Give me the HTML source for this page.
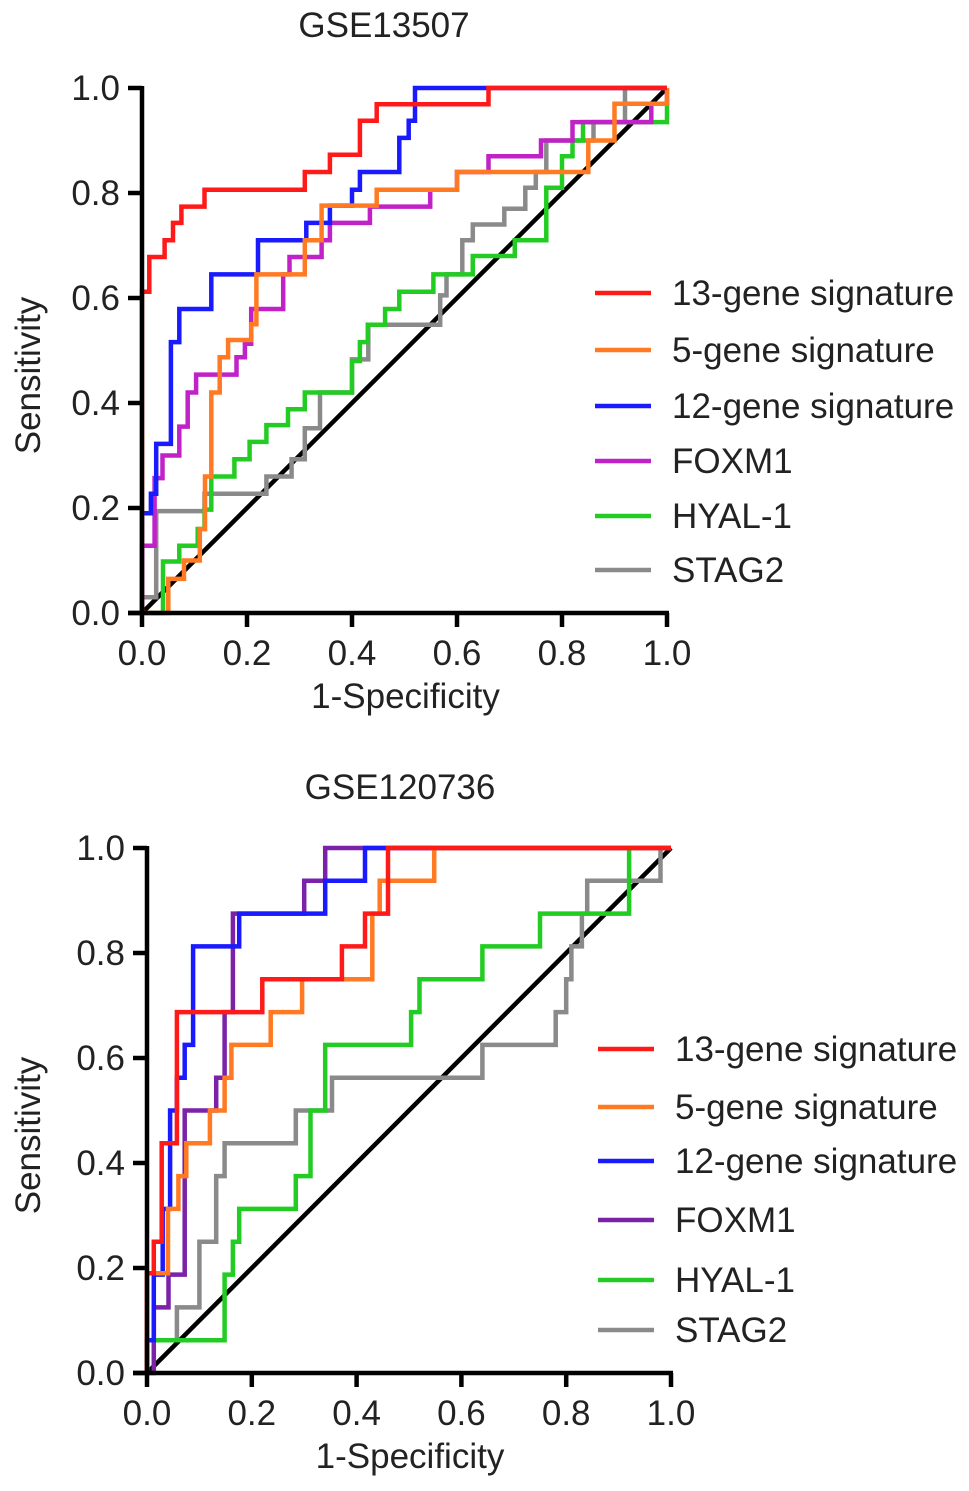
<!DOCTYPE html>
<html><head><meta charset="utf-8"><style>
html,body{margin:0;padding:0;background:#fff;}
svg{display:block;font-family:"Liberation Sans",Arial,sans-serif;}
</style></head><body>
<svg id="chart" width="969" height="1491" viewBox="0 0 969 1491" xmlns="http://www.w3.org/2000/svg"></svg>
<script>
// ---- data (step curves: move horizontally to fpr[i], then vertically to tpr[i]) ----
const ticks = [0, 0.2, 0.4, 0.6, 0.8, 1.0];
const tickLabels = ["0.0", "0.2", "0.4", "0.6", "0.8", "1.0"];
const seriesNames = ["13-gene signature", "5-gene signature", "12-gene signature", "FOXM1", "HYAL-1", "STAG2"];

const topRedFpr = [0,0.014,0.043,0.059,0.075,0.119,0.31,0.358,0.415,0.447,0.66,1];
const topRedTpr = [0.612,0.678,0.71,0.743,0.774,0.806,0.84,0.873,0.9375,0.969,1,1];
const topOrangeFpr = [0.05,0.08,0.11,0.12,0.132,0.148,0.164,0.208,0.218,0.256,0.31,0.342,0.447,0.6,0.85,0.9,1];
const topOrangeTpr = [0.065,0.1,0.16,0.26,0.42,0.487,0.52,0.55,0.645,0.645,0.71,0.776,0.806,0.84,0.9,0.97,1];
const topBlueFpr = [0,0.017,0.027,0.055,0.071,0.132,0.221,0.313,0.358,0.40,0.415,0.49,0.508,0.52,1];
const topBlueTpr = [0.19,0.227,0.322,0.516,0.579,0.645,0.71,0.743,0.776,0.806,0.84,0.905,0.9375,1,1];
const topFoxFpr = [0,0.024,0.039,0.071,0.087,0.103,0.18,0.196,0.208,0.269,0.281,0.342,0.358,0.434,0.549,0.6,0.66,0.76,0.82,0.97,1];
const topFoxTpr = [0.128,0.257,0.30,0.355,0.42,0.454,0.487,0.513,0.579,0.645,0.678,0.71,0.743,0.774,0.806,0.84,0.87,0.9,0.935,0.97,1];
const topGreenFpr = [0.04,0.071,0.106,0.119,0.132,0.176,0.205,0.237,0.278,0.31,0.40,0.415,0.43,0.463,0.49,0.555,0.63,0.71,0.77,0.8,0.82,0.84,1];
const topGreenTpr = [0.098,0.128,0.16,0.197,0.26,0.293,0.326,0.358,0.388,0.42,0.48,0.516,0.549,0.579,0.612,0.645,0.68,0.71,0.81,0.87,0.9,0.935,0.97];
const topGrayFpr = [0,0.027,0.119,0.237,0.285,0.31,0.339,0.40,0.431,0.568,0.58,0.61,0.63,0.69,0.73,0.75,0.77,0.86,0.92,1];
const topGrayTpr = [0.03,0.194,0.227,0.26,0.293,0.352,0.42,0.483,0.549,0.605,0.645,0.71,0.74,0.77,0.81,0.84,0.9,0.935,1,1];

const botRedFpr = [0,0.013,0.028,0.057,0.22,0.372,0.416,0.46,1];
const botRedTpr = [0.19,0.25,0.4375,0.6875,0.75,0.8125,0.875,1,1];
const botOrangeFpr = [0,0.04,0.06,0.075,0.12,0.148,0.161,0.236,0.296,0.43,0.444,0.548,1];
const botOrangeTpr = [0.19,0.3125,0.375,0.4375,0.5,0.5625,0.625,0.6875,0.75,0.875,0.9375,1,1];
const botBlueFpr = [0,0.013,0.03,0.044,0.057,0.072,0.088,0.176,0.34,0.416,1];
const botBlueTpr = [0.0625,0.1875,0.3125,0.5,0.5625,0.625,0.8125,0.875,0.9375,1,1];
const botFoxFpr = [0.013,0.041,0.072,0.132,0.148,0.164,0.3,0.34,1];
const botFoxTpr = [0.125,0.1875,0.5,0.5625,0.6875,0.875,0.9375,1,1];
const botGreenFpr = [0,0.148,0.164,0.176,0.284,0.312,0.34,0.504,0.52,0.64,0.75,0.92,1];
const botGreenTpr = [0.0625,0.1875,0.25,0.3125,0.375,0.5,0.625,0.6875,0.75,0.8125,0.875,1,1];
const botGrayFpr = [0,0.057,0.1,0.132,0.148,0.284,0.353,0.64,0.78,0.80,0.81,0.83,0.84,0.98,1];
const botGrayTpr = [0.0625,0.125,0.25,0.375,0.4375,0.5,0.5625,0.625,0.6875,0.75,0.8125,0.875,0.9375,1,1];

const NS = "http://www.w3.org/2000/svg";
const svg = document.getElementById("chart");
const FS = 35;
function mk(tag, attrs, parent) {
  const e = document.createElementNS(NS, tag);
  for (const k in attrs) e.setAttribute(k, attrs[k]);
  (parent || svg).appendChild(e);
  return e;
}
function txt(s, attrs, parent) { const e = mk("text", attrs, parent); e.textContent = s; return e; }

function panel(cfg) {
  const g = mk("g", {});
  
  
  const sx = v => cfg.x0 + v * (cfg.x1 - cfg.x0);
  const sy = v => cfg.y0 - v * (cfg.y0 - cfg.y1);
  const t = txt(cfg.title, {x: cfg.titleX, y: cfg.titleY, "font-size": FS, "text-anchor": "middle", fill: "#222"}, g);
  
  
  const d = mk("line", {x1: sx(0), y1: sy(0), x2: sx(1), y2: sy(1), stroke: "#000", "stroke-width": 4.5}, g);
  
  
  for (let i = cfg.series.length - 1; i >= 0; i--) {
    const s = cfg.series[i];
    let p = "M" + sx(0) + "," + sy(0);
    for (let k = 0; k < s.fpr.length; k++) {
      p += " H" + sx(s.fpr[k]).toFixed(1) + " V" + sy(s.tpr[k]).toFixed(1);
    }
    const path = mk("path", {d: p, fill: "none", stroke: s.color, "stroke-width": 4.5, "stroke-linejoin": "miter"}, g);
    
    
  }
  const ya = mk("line", {x1: sx(0), y1: sy(0) + 2, x2: sx(0), y2: sy(1) - 2, stroke: "#000", "stroke-width": 4.5}, g);
  
  
  const xa = mk("line", {x1: sx(0) - 14, y1: sy(0), x2: sx(1) + 2, y2: sy(0), stroke: "#000", "stroke-width": 4.5}, g);
  
  
  for (let i = 0; i < ticks.length; i++) {
    const v = ticks[i];
    mk("line", {x1: sx(0) - 14, y1: sy(v), x2: sx(0), y2: sy(v), stroke: "#000", "stroke-width": 4.5}, g);
    mk("line", {x1: sx(v), y1: sy(0), x2: sx(v), y2: sy(0) + 14, stroke: "#000", "stroke-width": 4.5}, g);
    const yl = txt(tickLabels[i], {x: sx(0) - 22, y: sy(v) + 12, "font-size": FS, "text-anchor": "end", fill: "#222"}, g);
    
    
    const xl = txt(tickLabels[i], {x: sx(v), y: sy(0) + 52, "font-size": FS, "text-anchor": "middle", fill: "#222"}, g);
    
    
  }
  const xt = txt("1-Specificity", {x: (sx(0) + sx(1)) / 2 + 1, y: sy(0) + 95, "font-size": FS, "text-anchor": "middle", fill: "#222"}, g);
  
  
  const cy = (sy(0) + sy(1)) / 2 + 25;
  const yt = txt("Sensitivity", {x: 40, y: cy, "font-size": FS, "text-anchor": "middle", fill: "#222", transform: "rotate(-90 40 " + cy + ")"}, g);
  
  
  const lg = mk("g", {}, g);
  
  
  for (let i = 0; i < cfg.series.length; i++) {
    const s = cfg.series[i], ly = cfg.legendY[i];
    const e = mk("g", {}, lg);
    
    
    mk("line", {x1: cfg.legendX, y1: ly, x2: cfg.legendX + 56, y2: ly, stroke: s.color, "stroke-width": 4.5}, e);
    txt(seriesNames[i], {x: cfg.legendX + 77, y: ly + 12, "font-size": FS, fill: "#222"}, e);
  }
}

panel({
  name: "roc-panel-gse13507", title: "GSE13507", titleX: 384, titleY: 37,
  x0: 142, x1: 667, y0: 613, y1: 88,
  legendX: 595, legendY: [293, 350, 406, 461, 516, 570],
  series: [
    {key: "13-gene", color: "#ff1a1a", fpr: topRedFpr, tpr: topRedTpr},
    {key: "5-gene", color: "#ff7a22", fpr: topOrangeFpr, tpr: topOrangeTpr},
    {key: "12-gene", color: "#1a1aff", fpr: topBlueFpr, tpr: topBlueTpr},
    {key: "foxm1", color: "#c022c8", fpr: topFoxFpr, tpr: topFoxTpr},
    {key: "hyal1", color: "#22cc22", fpr: topGreenFpr, tpr: topGreenTpr},
    {key: "stag2", color: "#8a8a8a", fpr: topGrayFpr, tpr: topGrayTpr}
  ]
});
panel({
  name: "roc-panel-gse120736", title: "GSE120736", titleX: 400, titleY: 799,
  x0: 147, x1: 671, y0: 1373, y1: 848,
  legendX: 598, legendY: [1049, 1107, 1161, 1220, 1280, 1330],
  series: [
    {key: "13-gene", color: "#ff1a1a", fpr: botRedFpr, tpr: botRedTpr},
    {key: "5-gene", color: "#ff7a22", fpr: botOrangeFpr, tpr: botOrangeTpr},
    {key: "12-gene", color: "#1a1aff", fpr: botBlueFpr, tpr: botBlueTpr},
    {key: "foxm1", color: "#7a22a8", fpr: botFoxFpr, tpr: botFoxTpr},
    {key: "hyal1", color: "#22cc22", fpr: botGreenFpr, tpr: botGreenTpr},
    {key: "stag2", color: "#8a8a8a", fpr: botGrayFpr, tpr: botGrayTpr}
  ]
});
</script>
</body></html>
